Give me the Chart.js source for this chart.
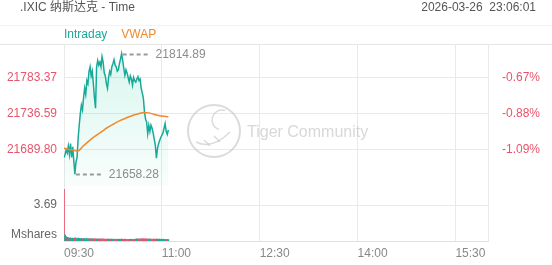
<!DOCTYPE html>
<html>
<head>
<meta charset="utf-8">
<script src="https://cdn.jsdelivr.net/npm/chart.js@4.4.0/dist/chart.umd.min.js"></script>
<style>
  html, body { margin: 0; padding: 0; background: #fff; }
</style>
</head>
<body>
<canvas id="chart" width="552" height="265"></canvas>
<script>
const title = '.IXIC 纳斯达克 - Time';
const stamp = '2026-03-26  23:06:01';

// minutes after 09:30
const timeTicks = [0, 90, 180, 270, 360, 390];
const timeLabels = ['09:30', '11:00', '12:30', '14:00', '15:30', ''];

// one price per minute, 09:30 .. 11:06
const prices = [
  21680, 21684, 21690, 21686, 21695, 21684, 21698, 21680, 21694, 21676,
  21658.28, 21674, 21680, 21705, 21722, 21737, 21748, 21742, 21758, 21770,
  21762, 21780, 21776, 21792, 21798, 21786, 21792, 21776, 21758, 21744,
  21798, 21806, 21800, 21804, 21798, 21811, 21804, 21790, 21786, 21776,
  21770, 21784, 21792, 21788, 21798, 21802, 21807, 21800, 21798, 21792,
  21794, 21802, 21808, 21814.89, 21806, 21796, 21787, 21794, 21790, 21784,
  21778, 21786, 21782, 21774, 21784, 21780, 21778, 21782, 21785, 21780,
  21782, 21770, 21764, 21757, 21740, 21730, 21726, 21711, 21722, 21714,
  21722, 21718, 21712, 21704, 21696, 21679, 21692, 21698, 21702, 21706,
  21709, 21712, 21718, 21724, 21714, 21710, 21716
];

const vwapMinutes = [0, 5, 10, 13, 17, 21, 25, 30, 35, 40, 45, 50, 55, 60, 65, 70, 74, 78, 82, 86, 90, 96];
const vwapValues = [
  21692, 21690.5, 21689, 21688.5, 21694, 21699, 21704, 21709, 21714, 21719, 21723,
  21727, 21730, 21733, 21735.5, 21737.5, 21738.5, 21738, 21736.5, 21735, 21734, 21733
];

// volume per minute, million shares
const volumes = [
  5.3, 0.62, 0.45, 0.38, 0.34, 0.3, 0.32, 0.28, 0.3, 0.27,
  0.33, 0.29, 0.26, 0.3, 0.28, 0.25, 0.27, 0.24, 0.26, 0.25,
  0.23, 0.26, 0.24, 0.22, 0.25, 0.23, 0.21, 0.24, 0.22, 0.23,
  0.21, 0.2, 0.22, 0.19, 0.21, 0.2, 0.22, 0.19, 0.2, 0.18,
  0.21, 0.19, 0.2, 0.18, 0.19, 0.17, 0.2, 0.18, 0.19, 0.17,
  0.18, 0.19, 0.17, 0.2, 0.18, 0.17, 0.19, 0.18, 0.16, 0.18,
  0.17, 0.19, 0.17, 0.18, 0.16, 0.18, 0.2, 0.22, 0.19, 0.21,
  0.2, 0.23, 0.22, 0.24, 0.22, 0.21, 0.23, 0.2, 0.19, 0.21,
  0.2, 0.18, 0.19, 0.2, 0.18, 0.21, 0.19, 0.18, 0.2, 0.17,
  0.18, 0.19, 0.17, 0.18, 0.16, 0.17, 0.15
];

const priceTicks = [21689.80, 21736.59, 21783.37];
const pctLabels = ['-1.09%', '-0.88%', '-0.67%'];
const priceRange = [21643.0, 21827.5];
const volumeTicks = [3.69];
const volumeMax = 5.64;
const prevClose = 21929.9;

const TEAL = '#18a999';
const ORANGE = '#f08a2c';
const RED = '#e8546b';
const GRID = '#e9e9e9';

Chart.defaults.font.family = '"Liberation Sans", Arial, "Noto Sans CJK SC", sans-serif';
Chart.defaults.font.size = 12;

const decor = {
  id: 'decor',
  beforeDraw(chart) {
    const c = chart.ctx;
    c.save();
    c.lineWidth = 1;
    c.strokeStyle = '#f3f3f3';
    c.beginPath(); c.moveTo(0, 25.5); c.lineTo(552, 25.5); c.stroke();
    c.strokeStyle = '#e6e6e6';
    c.beginPath(); c.moveTo(0, 44.5); c.lineTo(552, 44.5); c.stroke();

    c.font = '12px "Liberation Sans", Arial, "Noto Sans CJK SC", sans-serif';
    c.textBaseline = 'middle';
    c.fillStyle = '#555';
    c.textAlign = 'left';
    c.fillText(title, 20, 8);
    c.textAlign = 'right';
    c.fillText(stamp, 536, 8);

    c.textAlign = 'left';
    let lx = 64;
    chart.data.datasets.filter(d => d.type === 'line').forEach(d => {
      c.fillStyle = d.borderColor;
      c.fillText(d.label, lx, 35);
      lx += c.measureText(d.label).width + 14;
    });
    c.restore();
  },
  beforeDatasetsDraw(chart) {
    const c = chart.ctx;
    c.save();
    c.strokeStyle = 'rgba(190,190,190,0.55)';
    c.lineWidth = 2;
    c.beginPath(); c.arc(214, 131, 26, 0, Math.PI * 2); c.stroke();
    c.lineWidth = 1.5;
    c.beginPath(); c.arc(222, 120, 10, Math.PI * 0.6, Math.PI * 1.6); c.stroke();
    c.beginPath(); c.moveTo(196, 142); c.quadraticCurveTo(212, 150, 230, 132); c.stroke();
    c.beginPath(); c.moveTo(204, 140); c.lineTo(210, 146); c.moveTo(214, 136); c.lineTo(220, 142); c.stroke();
    c.font = '16px "Liberation Sans", Arial, sans-serif';
    c.textBaseline = 'middle';
    c.textAlign = 'left';
    c.fillStyle = 'rgba(200,200,200,0.7)';
    c.fillText('Tiger Community', 247, 133);
    c.restore();
  },
  afterDatasetsDraw(chart) {
    const c = chart.ctx;
    const xs = chart.scales.x, ys = chart.scales.y;
    const hi = prices.indexOf(Math.max(...prices));
    const lo = prices.indexOf(Math.min(...prices));
    c.save();
    c.font = '12px "Liberation Sans", Arial, sans-serif';
    c.textBaseline = 'middle';
    c.textAlign = 'left';
    [hi, lo].forEach(i => {
      const px = xs.getPixelForValue(i);
      const py = Math.round(ys.getPixelForValue(prices[i])) + 0.5;
      c.strokeStyle = '#999';
      c.lineWidth = 2;
      c.setLineDash([4, 3]);
      c.beginPath(); c.moveTo(px + 1, py); c.lineTo(px + 29, py); c.stroke();
      c.setLineDash([]);
      c.fillStyle = '#8c8c8c';
      c.fillText(prices[i].toFixed(2), px + 34, py);
    });
    c.fillStyle = '#666';
    c.textAlign = 'right';
    c.fillText('Mshares', 57, 235);
    c.restore();
  }
};

new Chart(document.getElementById('chart'), {
  type: 'line',
  data: {
    datasets: [
      {
        type: 'line',
        label: 'Intraday',
        data: prices.map((y, x) => ({ x, y })),
        xAxisID: 'x',
        yAxisID: 'y',
        borderColor: TEAL,
        borderWidth: 1.5,
        pointRadius: 0,
        tension: 0,
        fill: 'start',
        order: 1,
        backgroundColor: ctx => {
          const area = ctx.chart.chartArea;
          if (!area) return 'rgba(38,196,160,0.1)';
          const ys = ctx.chart.scales.y;
          const g = ctx.chart.ctx.createLinearGradient(0, ys.top, 0, ys.bottom);
          g.addColorStop(0, 'rgba(40,205,160,0.18)');
          g.addColorStop(1, 'rgba(40,205,160,0.03)');
          return g;
        }
      },
      {
        type: 'line',
        label: 'VWAP',
        data: vwapMinutes.map((x, i) => ({ x, y: vwapValues[i] })),
        xAxisID: 'x',
        yAxisID: 'y',
        borderColor: ORANGE,
        borderWidth: 1.5,
        pointRadius: 0,
        cubicInterpolationMode: 'monotone',
        fill: false,
        order: 0
      },
      {
        type: 'bar',
        label: 'Volume',
        data: volumes.map((y, x) => ({ x, y })),
        xAxisID: 'x',
        yAxisID: 'yv',
        barThickness: 1,
        order: 2,
        backgroundColor: ctx => {
          const i = ctx.dataIndex;
          const prev = i === 0 ? prevClose : prices[i - 1];
          return prices[i] >= prev ? TEAL : RED;
        }
      }
    ]
  },
  options: {
    responsive: false,
    animation: false,
    layout: { padding: { top: 44, left: 0, right: 0, bottom: 0 } },
    plugins: { legend: { display: false }, tooltip: { enabled: false } },
    scales: {
      x: {
        type: 'linear',
        min: 0,
        max: 390,
        offset: false,
        afterBuildTicks: s => { s.ticks = timeTicks.map(v => ({ value: v })); },
        afterFit: s => { s.height = 24; },
        grid: { color: GRID, drawTicks: false, offset: false },
        border: { display: true, color: '#e0e0e0' },
        ticks: {
          align: 'start', padding: 5, color: '#888', maxRotation: 0, autoSkip: false,
          callback: (v, i) => timeLabels[i]
        }
      },
      y: {
        type: 'linear',
        position: 'left',
        stack: 'left',
        stackWeight: 142,
        weight: 2,
        min: priceRange[0],
        max: priceRange[1],
        afterBuildTicks: s => { s.ticks = priceTicks.map(v => ({ value: v })); },
        afterFit: s => { s.width = 64; },
        grid: { color: GRID, drawTicks: false },
        border: { display: false },
        ticks: { color: RED, padding: 7, callback: v => v.toFixed(2) }
      },
      yv: {
        type: 'linear',
        position: 'left',
        stack: 'left',
        stackWeight: 55,
        weight: 1,
        min: 0,
        max: volumeMax,
        afterBuildTicks: s => { s.ticks = volumeTicks.map(v => ({ value: v })); },
        afterFit: s => { s.width = 64; },
        grid: { color: GRID, drawTicks: false },
        border: { display: false },
        ticks: { color: '#666', padding: 7, callback: v => v.toFixed(2) }
      },
      yPct: {
        type: 'linear',
        position: 'right',
        stack: 'right',
        stackWeight: 142,
        weight: 1,
        min: priceRange[0],
        max: priceRange[1],
        afterBuildTicks: s => { s.ticks = priceTicks.map(v => ({ value: v })); },
        afterFit: s => { s.width = 64; },
        grid: { display: false },
        border: { display: false },
        ticks: { color: RED, padding: 6, callback: (v, i) => pctLabels[i] }
      },
      yPad: {
        type: 'linear',
        position: 'right',
        stack: 'right',
        stackWeight: 55,
        weight: 2,
        min: 0,
        max: 1,
        afterFit: s => { s.width = 64; },
        grid: { display: false },
        border: { display: false },
        ticks: { display: false }
      }
    }
  },
  plugins: [decor]
});
</script>
</body>
</html>
